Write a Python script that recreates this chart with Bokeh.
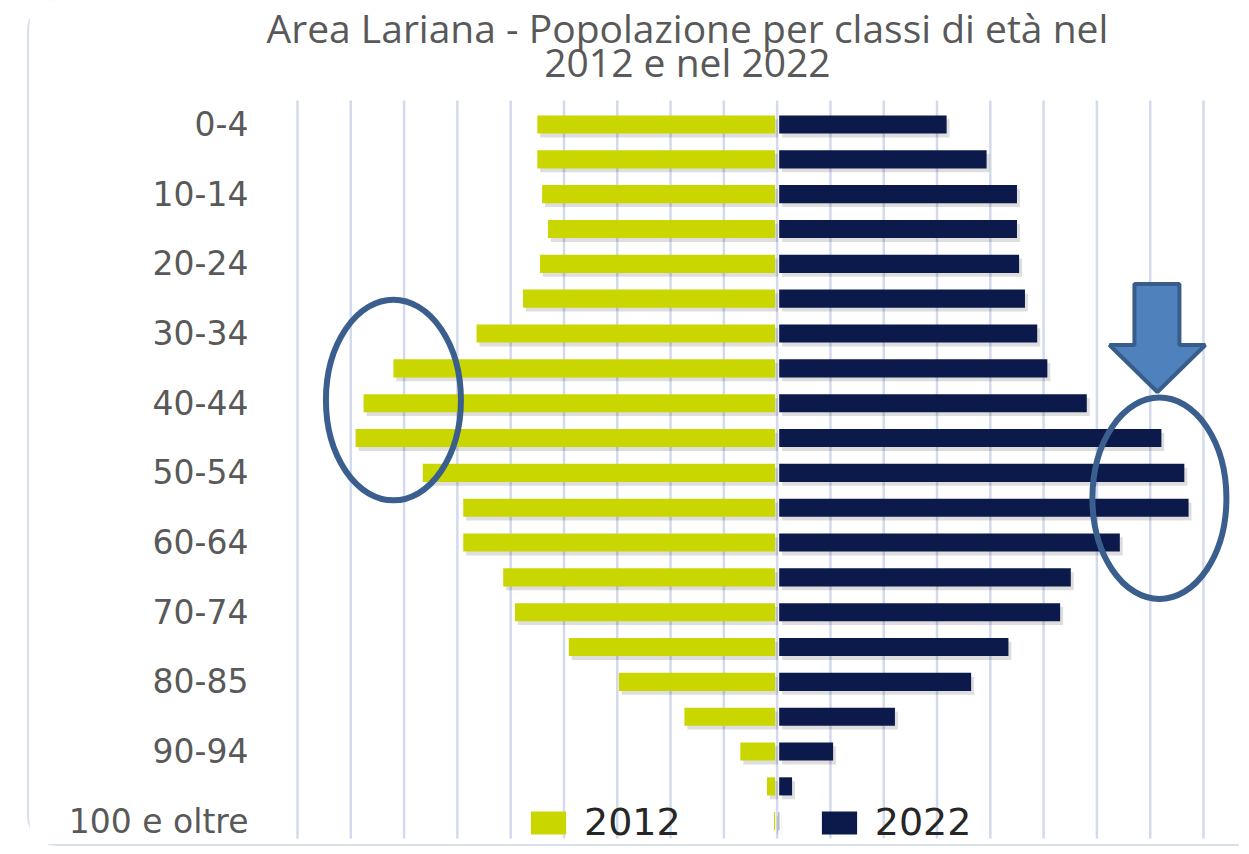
from bokeh.plotting import figure
from bokeh.models import (Range1d, FixedTicker, Legend, LegendItem,
                          ColumnDataSource)
from bokeh.core.properties import value
from bokeh.embed import file_html
from bokeh.resources import INLINE

# ---------------- data ----------------
age_classes = ["0-4", "5-9", "10-14", "15-19", "20-24", "25-29", "30-34",
               "35-39", "40-44", "45-49", "50-54", "55-59", "60-64", "65-69",
               "70-74", "75-79", "80-85", "85-89", "90-94", "95-99",
               "100 e oltre"]
pop_2012 = [45000, 45000, 44100, 43000, 44500, 47700, 56400, 72000, 77600,
            79100, 66500, 58900, 58900, 51400, 49200, 39100, 29700, 17400,
            6900, 1900, 600]
pop_2022 = [31800, 39300, 45000, 45000, 45400, 46500, 48800, 50700, 58100,
            72100, 76400, 77200, 64300, 55100, 53100, 43400, 36400, 22100,
            10500, 2800, 300]
series_labels = ["2012", "2022"]
grid_ticks = list(range(-90000, 80001, 10000))
title_lines = ["Area Lariana - Popolazione per classi di età nel",
               "2012 e nel 2022"]

# ---------------- styles / layout ----------------
C12 = "#c9d600"
C22 = "#0b1a4a"
GRID = "#d3daec"
TXT = "#595959"
ANN = "#3a5f8f"
GAP = 380                 # small gap either side of the centre line
BAR_H = 0.52
SH_DX, SH_DY = 550, 0.11
GRID_TOP, GRID_BOTTOM = -0.689, 20.497
TITLE_X, TITLE_Y = -16831, [-2.785, -1.809]
PAGE_X0 = 29              # canvas starts here (margin + card border)
FRAME_LEFT = 248          # page x of the plot frame's left edge

n = len(age_classes)
idx = list(range(n))
src = ColumnDataSource(dict(
    y=idx,
    ys=[i + SH_DY for i in idx],
    l12=[-v for v in pop_2012], r12=[-GAP] * n,
    l22=[GAP] * n, r22=pop_2022,
    l12s=[-v + SH_DX for v in pop_2012], r12s=[-GAP + SH_DX] * n,
    l22s=[GAP + SH_DX] * n, r22s=[v + SH_DX for v in pop_2022],
))

p = figure(width=1241 - PAGE_X0, height=846,
           x_range=Range1d(-99194, 86004), y_range=Range1d(20.669, -3.560),
           output_backend="svg", toolbar_location=None,
           min_border_left=FRAME_LEFT - PAGE_X0, min_border_right=6,
           min_border_bottom=2, min_border_top=0)
p.styles = {"margin-left": "27px",
            "border-left": "2px solid #d9dfeb",
            "border-bottom": "2px solid #d9dfeb",
            "border-top-left-radius": "30px",
            "border-bottom-left-radius": "30px"}
p.outline_line_color = None
p.background_fill_color = "white"
p.border_fill_color = "white"

p.xaxis.visible = False
p.xgrid.visible = False
p.ygrid.visible = False

ax = p.yaxis[0]
ax.ticker = FixedTicker(ticks=idx[::2])
ax.major_label_overrides = {i: age_classes[i] for i in idx[::2]}
ax.axis_line_color = None
ax.major_tick_line_color = None
ax.minor_tick_line_color = None
ax.major_tick_out = 0
ax.major_tick_in = 0
ax.major_label_standoff = 0
ax.major_label_text_font = "DejaVu Sans"
ax.major_label_text_font_size = "33px"
ax.major_label_text_color = TXT

# vertical grid lines (only over the bar area)
p.segment(x0=grid_ticks, x1=grid_ticks,
          y0=[GRID_TOP] * len(grid_ticks), y1=[GRID_BOTTOM] * len(grid_ticks),
          line_color=GRID, line_width=2.5)

# shadows
p.hbar(y="ys", left="l12s", right="r12s", height=BAR_H, source=src,
       fill_color="black", fill_alpha=0.13, line_color=None)
p.hbar(y="ys", left="l22s", right="r22s", height=BAR_H, source=src,
       fill_color="black", fill_alpha=0.13, line_color=None)
# bars
r12 = p.hbar(y="y", left="l12", right="r12", height=BAR_H, source=src,
             fill_color=C12, line_color=None)
r22 = p.hbar(y="y", left="l22", right="r22", height=BAR_H, source=src,
             fill_color=C22, line_color=None)

# annotations: ellipses and arrow
p.ellipse(x=[-72000, 71730], y=[7.91, 10.73], width=[25330, 25140],
          height=[5.76, 5.78], fill_alpha=0, line_color=ANN, line_width=6)
p.patch(x=[67040, 75480, 75480, 80340, 71350, 62350, 67040],
        y=[4.58, 4.58, 6.33, 6.33, 7.68, 6.33, 6.33],
        fill_color="#4f81bd", line_color="#385d8a", line_width=4)

# title
p.text(x=[TITLE_X] * 2, y=TITLE_Y, text=title_lines,
       text_font=value("Open Sans"), text_font_size="39px",
       text_color=TXT, text_align="center", text_baseline="middle")

legend = Legend(items=[LegendItem(label=series_labels[0], renderers=[r12]),
                       LegendItem(label=series_labels[1], renderers=[r22])],
                orientation="horizontal", location=(278, 0),
                glyph_width=44, glyph_height=29, label_standoff=14,
                spacing=136, padding=0, margin=0,
                background_fill_alpha=0, border_line_color=None,
                label_text_font="DejaVu Sans", label_text_font_size="38px",
                label_text_color="#262626")
p.add_layout(legend)

open("out.html", "w").write(file_html(p, INLINE))
